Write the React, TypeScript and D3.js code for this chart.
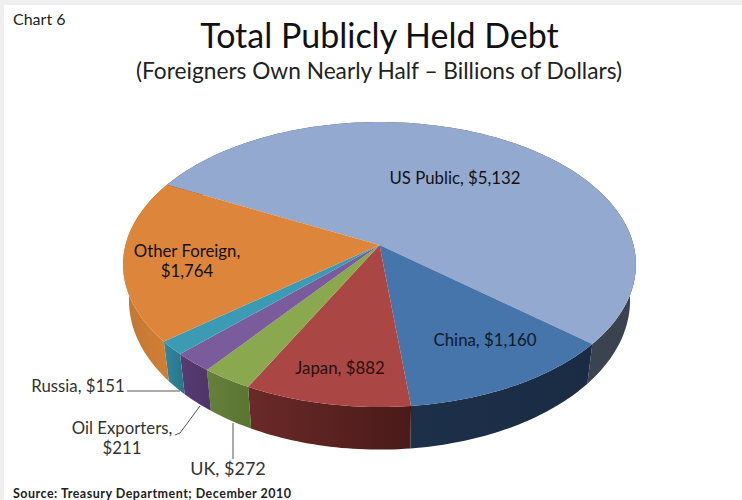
import React from "react";
import * as d3 from "d3";

const categories = ["US Public", "China", "Japan", "UK", "Oil Exporters", "Russia", "Other Foreign"];
const values = [5132, 1160, 882, 272, 211, 151, 1764];
const topColors = ["#94a9d0", "#4575aa", "#aa4744", "#8aa94e", "#7a5b9b", "#3b9bb5", "#dd853b"];
const wallLeft = ["#4b5260", "#1d3049", "#6a2a28", "#64813a", "#573c74", "#2f87a0", "#c27733"];
const wallRight = ["#3a4250", "#1a2c44", "#4a1a19", "#5a7432", "#4f3468", "#297488", "#d27f36"];

const FONT = "Lato, 'Open Sans', sans-serif";
const CX = 379.5, CY = 245, F = 254, G = 139.8, K = 0.137;
const BOTTOM_X = 0.977, BOTTOM_Y = 1.047, BOTTOM_DY = 35;
const START = (-152.8 * Math.PI) / 180;

function project(t: number, bottom: boolean): [number, number] {
  const u = Math.cos(t), v = Math.sin(t), d = 1 - K * v;
  const x = (F * u) / d, y = (G * v) / d;
  return bottom ? [CX + x * BOTTOM_X, CY + y * BOTTOM_Y + BOTTOM_DY] : [CX + x, CY + y];
}

const line = d3.line<[number, number]>();

function arcPts(a: number, b: number, bottom: boolean) {
  const n = Math.max(2, Math.ceil((b - a) / 0.02));
  return d3.range(n + 1).map((i) => project(a + ((b - a) * i) / n, bottom));
}

const arcs = d3.pie<number>().sort(null).startAngle(0).endAngle(2 * Math.PI)(values);

export default function App() {
  const slices = arcs.map((a, i) => ({
    i,
    a0: START + a.startAngle,
    a1: START + a.endAngle,
  }));
  return (
    <svg width={742} height={500} style={{ position: "absolute", left: 0, top: 0, background: "#fff" }}>
      <defs>
        {slices.map((s) => (
          <linearGradient key={s.i} id={`w${s.i}`} x1="0" x2="1" y1="0" y2="0">
            <stop offset="0" stopColor={wallLeft[s.i]} />
            <stop offset="1" stopColor={wallRight[s.i]} />
          </linearGradient>
        ))}
      </defs>
      <rect x={0} y={0} width={742} height={5} fill="#efefef" />
      <rect x={0} y={0} width={4} height={500} fill="#efefef" />

      {slices.map((s) => (
        <path
          key={`wall${s.i}`}
          d={(line([...arcPts(s.a0, s.a1, false), ...arcPts(s.a0, s.a1, true).reverse()]) ?? "") + "Z"}
          fill={`url(#w${s.i})`}
        />
      ))}
      {slices.map((s) => (
        <path
          key={`top${s.i}`}
          d={(line([[CX, CY], ...arcPts(s.a0, s.a1, false)]) ?? "") + "Z"}
          fill={topColors[s.i]}
        />
      ))}

      <g fill="none" stroke="#555" strokeWidth={1}>
        <path d="M127,391H180" />
        <path d="M175,435L180,433L200,406" />
        <path d="M233,423V459" />
      </g>

      <g fontFamily={FONT} fill="#111">
        <text x={13} y={25} fontSize={16} fill="#222">Chart 6</text>
        <text x={379.5} y={48} fontSize={34} textAnchor="middle">Total Publicly Held Debt</text>
        <text x={379} y={79} fontSize={22.7} textAnchor="middle" fill="#222">(Foreigners Own Nearly Half – Billions of Dollars)</text>
      </g>
      <g fontFamily={FONT} fontSize={16.8} fill="#111" textAnchor="middle">
        <text x={455} y={184}>{categories[0]}, $5,132</text>
        <text x={485} y={346} fill="#0e1a2c">{categories[1]}, $1,160</text>
        <text x={340} y={374} fill="#2a1010">{categories[2]}, $882</text>
        <text x={187} y={257}>{categories[6]},</text>
        <text x={187} y={277}>$1,764</text>
        <text x={78} y={392} fill="#333">{categories[5]}, $151</text>
        <text x={122} y={434} fill="#333">{categories[4]},</text>
        <text x={122} y={454} fill="#333">$211</text>
        <text x={228} y={475} fontSize={18} fill="#333">{categories[3]}, $272</text>
      </g>
      <text x={13} y={498} fontFamily={FONT} fontSize={12.5} fontWeight={700} fill="#222" textLength={278} lengthAdjust="spacing">
        Source:  Treasury Department; December 2010
      </text>
    </svg>
  );
}
